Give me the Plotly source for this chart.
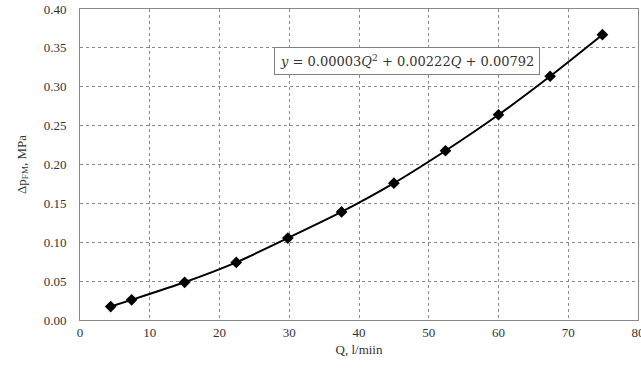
import plotly.graph_objects as go

Q = [4.4, 7.4, 15.0, 22.4, 29.8, 37.5, 45.0, 52.4, 60.0, 67.4, 74.9]
dp = [0.0173, 0.0259, 0.0485, 0.0741, 0.1054, 0.139, 0.176, 0.2177, 0.264, 0.3135, 0.367]
x_ticks = [0, 10, 20, 30, 40, 50, 60, 70, 80]
y_ticks = [0.0, 0.05, 0.10, 0.15, 0.20, 0.25, 0.30, 0.35, 0.40]

font_fam = "Liberation Serif"

fig = go.Figure()
fig.add_trace(go.Scatter(
    x=Q, y=dp, mode="lines+markers",
    line=dict(color="black", width=2, shape="spline", smoothing=0.6),
    marker=dict(symbol="diamond", size=9, color="black"),
    showlegend=False,
))

axis_common = dict(
    showgrid=True, gridcolor="#8a8a8a", gridwidth=1, griddash="dot",
    showline=True, linecolor="#8a8a8a", linewidth=1, mirror=True,
    ticks="", zeroline=False, ticklabeloverflow="allow", automargin=False,
    tickfont=dict(family=font_fam, size=13, color="#333333"),
)

fig.update_layout(
    width=641, height=373,
    margin=dict(l=80, r=3, t=9, b=53),
    plot_bgcolor="white", paper_bgcolor="white",
    font=dict(family=font_fam, size=13, color="#333333"),
    xaxis=dict(range=[0, 80], tickvals=x_ticks, ticktext=[str(v) for v in x_ticks],
               title=dict(text="Q, l/miin", standoff=6,
                          font=dict(family=font_fam, size=13, color="#333333")),
               **axis_common),
    yaxis=dict(range=[0, 0.40], tickvals=y_ticks, ticktext=[f"{v:.2f}" for v in y_ticks],
               ticklabelstandoff=10,
               title=dict(text="Δp<sub>FM</sub>, MPa", standoff=14,
                          font=dict(family=font_fam, size=13, color="#333333")),
               **axis_common),
    annotations=[dict(
        xref="paper", yref="paper", x=0.586, y=0.833,
        xanchor="center", yanchor="middle",
        text="<i>y</i> = 0.00003<i>Q</i><sup>2</sup> + 0.00222<i>Q</i> + 0.00792",
        showarrow=False, bgcolor="white", bordercolor="#7f7f7f", borderwidth=1,
        borderpad=5,
        font=dict(family="DejaVu Serif", size=13, color="#333333"),
    )],
)

fig.write_html("out.html")
